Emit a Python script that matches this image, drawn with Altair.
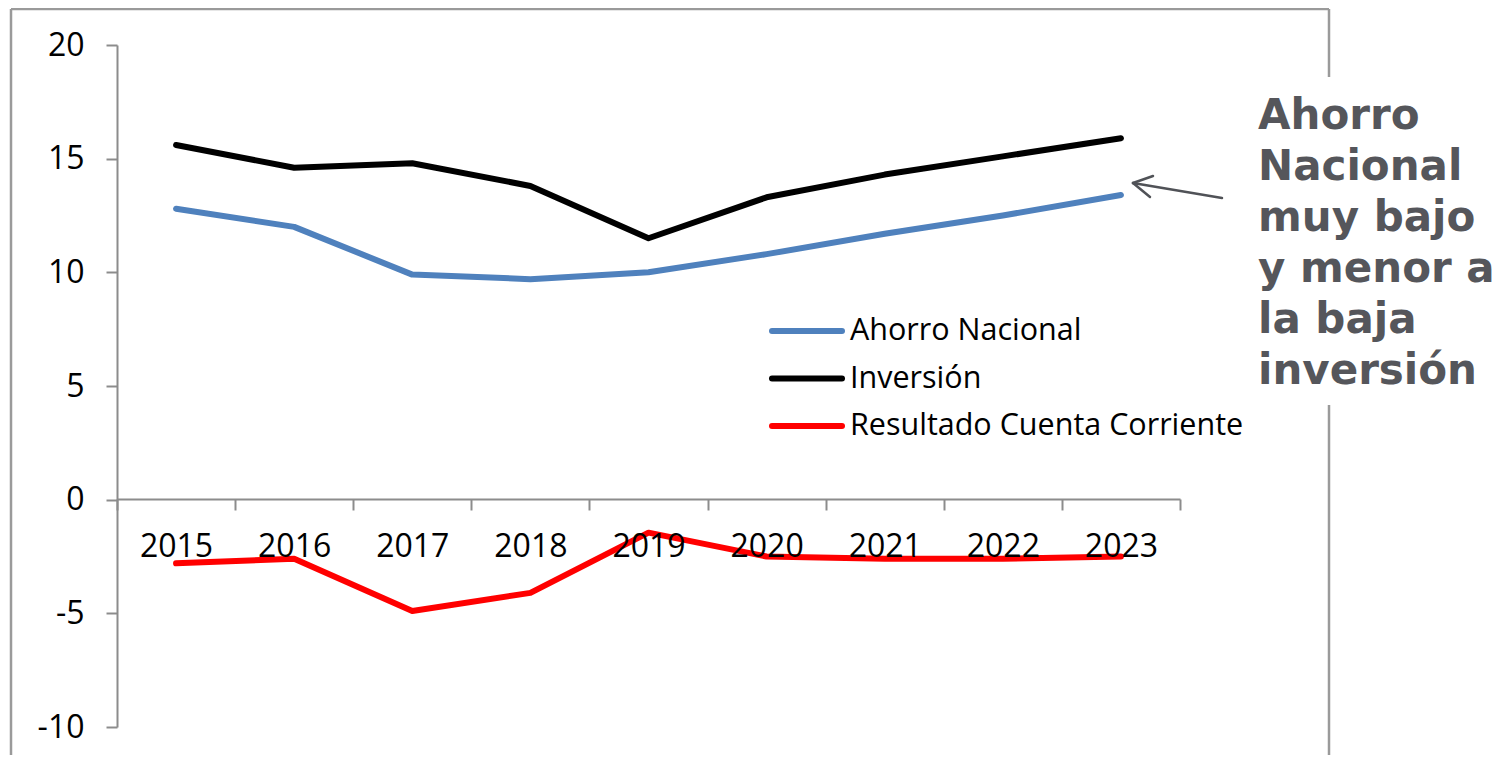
import altair as alt
import pandas as pd

years = ["2015", "2016", "2017", "2018", "2019", "2020", "2021", "2022", "2023"]
ahorro = [12.8, 12.0, 9.9, 9.7, 10.0, 10.8, 11.7, 12.5, 13.4]
inversion = [15.6, 14.6, 14.8, 13.8, 11.5, 13.3, 14.3, 15.1, 15.9]
cuenta = [-2.8, -2.6, -4.9, -4.1, -1.45, -2.5, -2.6, -2.6, -2.5]

series_names = ["Ahorro Nacional", "Inversión", "Resultado Cuenta Corriente"]
series_colors = ["#4F81BD", "#000000", "#FF0000"]
y_ticks = [-10, -5, 0, 5, 10, 15, 20]
annotation = "Ahorro\nNacional\nmuy bajo\ny menor a\nla baja\ninversión"

rows = []
for name, vals in zip(series_names, [ahorro, inversion, cuenta]):
    for yr, v in zip(years, vals):
        rows.append({"year": yr, "value": v, "series": name})
df = pd.DataFrame(rows)

W, H = 1063, 682
AXIS_GRAY = "#8C8C8C"
FRAME_GRAY = "#9A9A9A"
LABEL_FONT = "Open Sans"

lines = alt.Chart(df).mark_line(strokeWidth=6, strokeCap="round", strokeJoin="round").encode(
    x=alt.X("year:O", bandPosition=0.5,
            scale=alt.Scale(type="band", paddingInner=0, paddingOuter=0, domain=years),
            axis=alt.Axis(title=None, orient="bottom", offset=-228, tickBand="extent",
                          labelAngle=0, labelFont=LABEL_FONT, labelFontSize=32,
                          labelColor="black", labelBaseline="middle", labelPadding=36,
                          tickSize=11, tickColor=AXIS_GRAY, tickWidth=2,
                          domainColor=AXIS_GRAY, domainWidth=2, zindex=1)),
    y=alt.Y("value:Q",
            scale=alt.Scale(domain=[-10, 20], nice=False, zero=False),
            axis=alt.Axis(title=None, values=y_ticks, grid=False, labelFont=LABEL_FONT,
                          labelFontSize=32, labelColor="black", labelPadding=22,
                          labelExpr="toString(datum.value)",
                          tickSize=11, tickColor=AXIS_GRAY, tickWidth=2,
                          domainColor=AXIS_GRAY, domainWidth=2)),
    color=alt.Color("series:N", scale=alt.Scale(domain=series_names, range=series_colors),
                    legend=None),
    detail="series:N",
)

layers = [lines]

# manual legend
for i, (name, col) in enumerate(zip(series_names, series_colors)):
    ly = 286 + 47.5 * i
    ld = pd.DataFrame({"label": [name]})
    layers.append(alt.Chart(ld).mark_rule(strokeWidth=6, strokeCap="round", color=col).encode(
        x=alt.value(655), x2=alt.value(725), y=alt.value(ly)))
    layers.append(alt.Chart(ld).mark_text(align="left", baseline="middle", font=LABEL_FONT,
                                          fontSize=30.5, color="black").encode(
        x=alt.value(733), y=alt.value(ly), text="label:N"))

# frame
frame = [(-106, -36, -106, 720), (-106, -36, 1212, -36), (1212, -36, 1212, 32), (1212, 360, 1212, 720)]
for x1, y1, x2, y2 in frame:
    layers.append(alt.Chart(pd.DataFrame({"k": [0]})).mark_rule(strokeWidth=2.5, color=FRAME_GRAY).encode(
        x=alt.value(x1), y=alt.value(y1), x2=alt.value(x2), y2=alt.value(y2)))

# arrow
ARROW = "#505257"
arrow = [(1105, 153, 1016, 138), (1016, 138, 1036, 131), (1016, 138, 1033, 152)]
for x1, y1, x2, y2 in arrow:
    layers.append(alt.Chart(pd.DataFrame({"k": [0]})).mark_rule(strokeWidth=2.5, color=ARROW, strokeCap="round").encode(
        x=alt.value(x1), y=alt.value(y1), x2=alt.value(x2), y2=alt.value(y2)))

# annotation text
layers.append(alt.Chart(pd.DataFrame({"t": [annotation]})).mark_text(
    align="left", baseline="alphabetic", font="DejaVu Sans", fontWeight="bold", fontSize=42,
    color="#55565B", lineBreak="\n", lineHeight=51).encode(
    x=alt.value(1141), y=alt.value(84), text="t:N"))

chart = alt.layer(*layers).properties(
    width=W, height=H,
    autosize=alt.AutoSizeParams(type="none"),
    padding={"left": 109, "top": 37, "right": 315, "bottom": 28},
    background="white",
).configure_view(stroke=None)

chart.save("out.html", embed_options={"renderer": "svg", "actions": False})
